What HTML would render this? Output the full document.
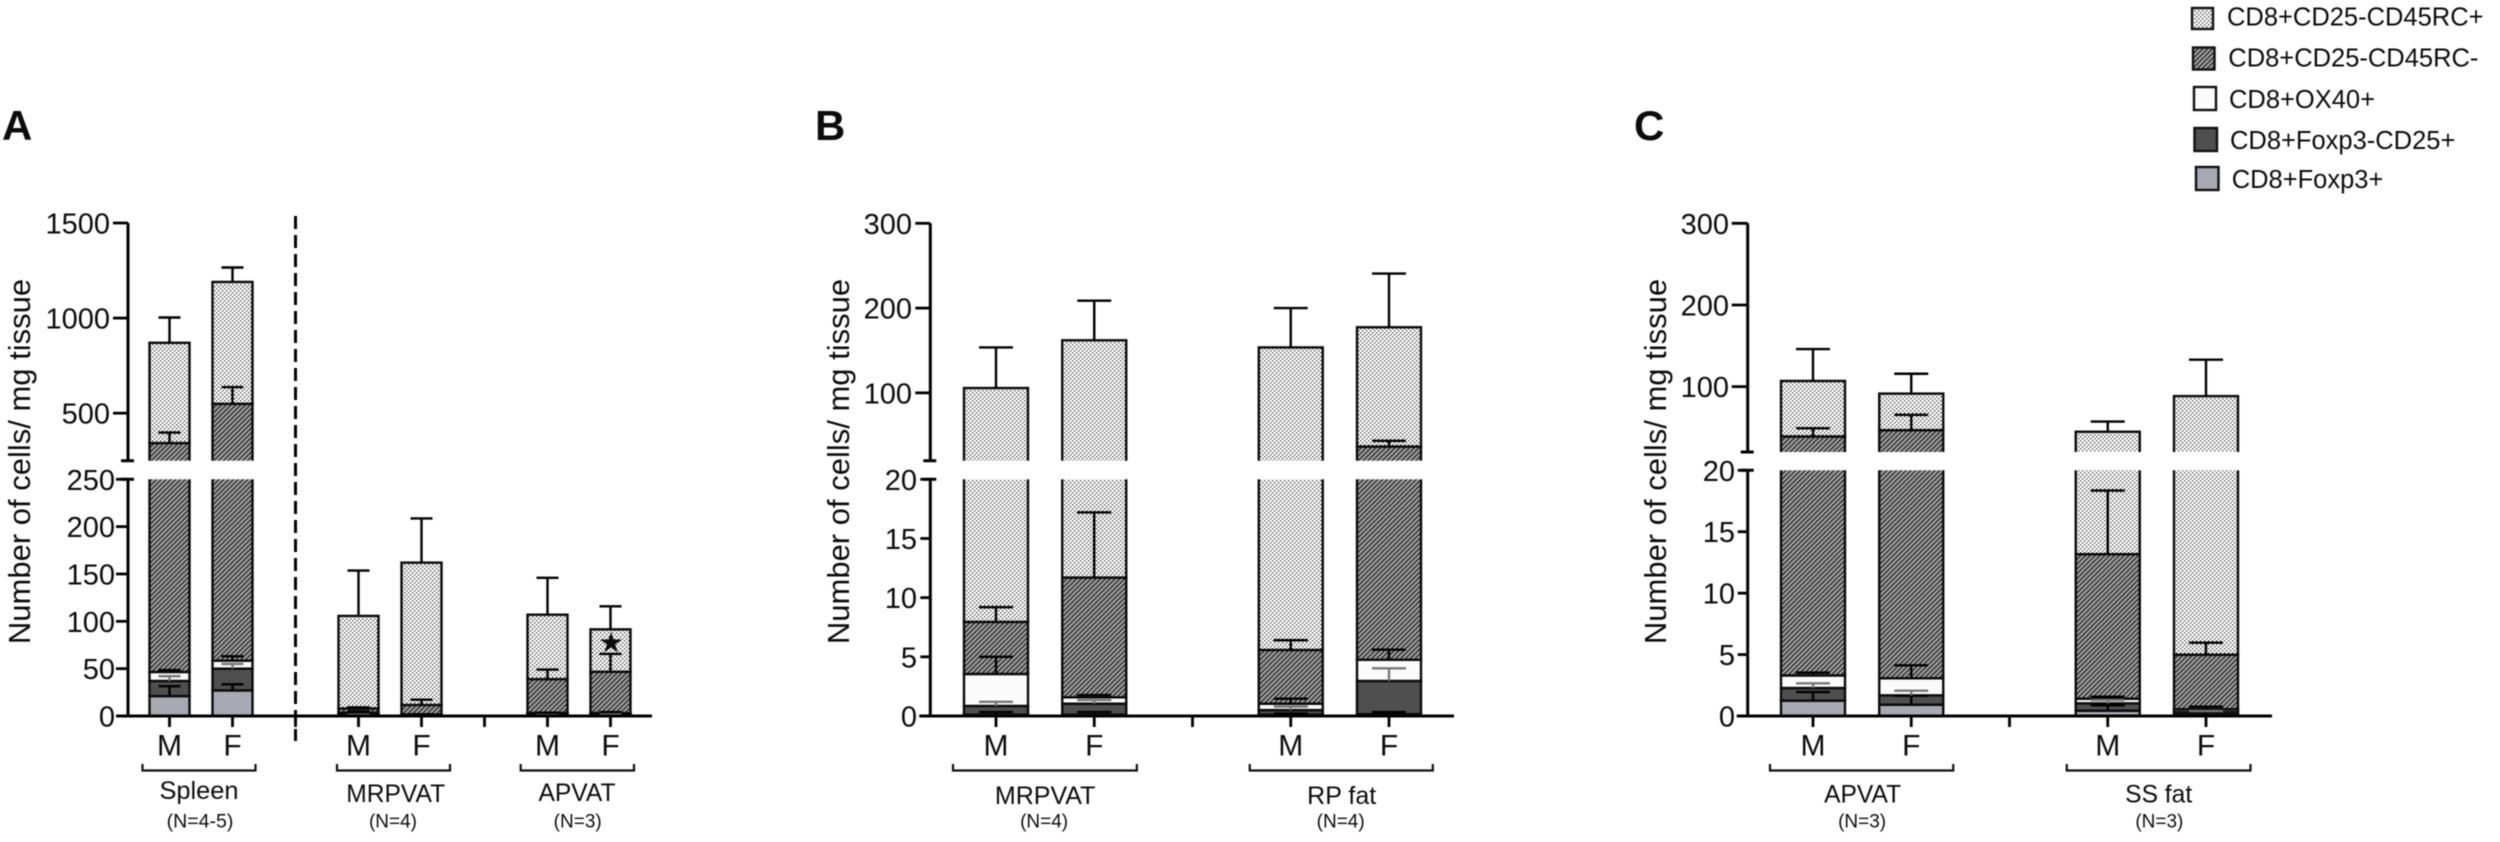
<!DOCTYPE html>
<html lang="en">
<head>
<meta charset="utf-8">
<title>CD8 T cell subsets per mg tissue</title>
<style>
  html, body { margin: 0; padding: 0; background: #fff; }
  #figure { display: block; width: 2500px; height: 842px; filter: blur(0.5px); font-family: "Liberation Sans", Arial, sans-serif; fill: #0c0c0c; }
</style>
</head>
<body>
<svg id="figure" xmlns="http://www.w3.org/2000/svg" width="2500" height="842" viewBox="0 0 2500 842">
  <defs>
    <pattern id="dots" width="4" height="4" patternUnits="userSpaceOnUse">
      <rect width="4" height="4" fill="#ffffff"/>
      <rect x="0" y="0" width="1.4" height="1.4" fill="#444"/>
      <rect x="2" y="2" width="1.4" height="1.4" fill="#444"/>
    </pattern>
    <pattern id="hatch" width="3.4" height="3.4" patternUnits="userSpaceOnUse" patternTransform="rotate(45)">
      <rect width="3.4" height="3.4" fill="#b4b4b4"/>
      <rect x="0" y="0" width="1.8" height="3.4" fill="#383838"/>
    </pattern>
  </defs>

  <text x="2" y="140" font-size="42" font-weight="bold">A</text>
  <text x="815" y="140" font-size="42" font-weight="bold">B</text>
  <text x="1634" y="140" font-size="42" font-weight="bold">C</text>

  <g id="panel-a"></g>
  <g id="panel-b"></g>
  <g id="panel-c"></g>

  <line x1="295.5" y1="216" x2="295.5" y2="741" stroke="#000" stroke-width="3" stroke-dasharray="13 6"/>
  <text x="611" y="652" font-size="28" text-anchor="middle" style="font-family:'DejaVu Sans',sans-serif">★</text>

  <g>
    <g>
      <rect x="2192" y="8" width="21" height="21" fill="url(#dots)" stroke="#111" stroke-width="2.4"/>
      <text x="2227" y="25.5" font-size="25.5">CD8+CD25-CD45RC+</text>
    </g>
    <g>
      <rect x="2193" y="47.5" width="21.5" height="22" fill="url(#hatch)" stroke="#111" stroke-width="2.4"/>
      <text x="2228.3" y="66.5" font-size="25.5">CD8+CD25-CD45RC-</text>
    </g>
    <g>
      <rect x="2194" y="87" width="22" height="23" fill="#fbfbfb" stroke="#111" stroke-width="2.4"/>
      <text x="2229" y="108" font-size="25.5">CD8+OX40+</text>
    </g>
    <g>
      <rect x="2194.5" y="128" width="22.5" height="23" fill="#4f4f4f" stroke="#111" stroke-width="2.4"/>
      <text x="2230" y="149" font-size="25.5">CD8+Foxp3-CD25+</text>
    </g>
    <g>
      <rect x="2196" y="167" width="22.5" height="23" fill="#a9a9b3" stroke="#111" stroke-width="2.4"/>
      <text x="2231.7" y="188" font-size="25.5">CD8+Foxp3+</text>
    </g>
  </g>
</svg>

<script>
// ---------- Data: mean (stack height) and SD of each population ----------
const seriesNames = ['foxp3', 'foxp3-cd25', 'ox40', 'cd45rc-neg', 'cd45rc-pos'];

const panelACategories = ['M', 'F', '', 'M', 'F', '', 'M', 'F'];
const panelAFoxp3      = [21, 27, null, 0.1, 0.1, null, 1.25, 0.92];
const panelADark       = [16, 23, null, 0.75, 0.94, null, 1.03, 0.76];
const panelAOx40       = [9.5, 8.5, null, 2.7, 0.54, null, 1.02, 1.39];
const panelARcNeg      = [296.5, 490.5, null, 4.4, 10.12, null, 35.7, 43.63];
const panelARcPos      = [527, 641, null, 97.75, 150.3, null, 68, 44.8];
const panelAFoxp3Err   = [10.5, 6.5, null, 0.23, 0.23, null, 0.7, 0.73];
const panelADarkErr    = [5, 5, null, 0.35, 0.31, null, 0.38, 0.38];
const panelAOx40Err    = [2, 4.5, null, 1.45, 0.19, null, 0.23, 1.06];
const panelARcNegErr   = [55, 88, null, 1.25, 5.5, null, 10, 18.8];
const panelARcPosErr   = [133, 76, null, 47.9, 46.7, null, 39, 24.3];
const panelATicksLow   = [0, 50, 100, 150, 200, 250];
const panelATicksHigh  = [500, 1000, 1500];
const panelAGroups     = ['Spleen', 'MRPVAT', 'APVAT'];
const panelAGroupNs    = ['(N=4-5)', '(N=4)', '(N=3)'];

const panelBCategories = ['M', 'F', '', 'M', 'F'];
const panelBFoxp3      = [0.1, 0.1, null, 0.1, 0.15];
const panelBDark       = [0.75, 0.94, null, 0.4, 2.81];
const panelBOx40       = [2.7, 0.54, null, 0.54, 1.79];
const panelBRcNeg      = [4.4, 10.12, null, 4.54, 31.95];
const panelBRcPos      = [97.75, 150.3, null, 148.02, 140.7];
const panelBFoxp3Err   = [0.23, 0.23, null, 0.1, 0.18];
const panelBDarkErr    = [0.35, 0.31, null, 0.3, 1.07];
const panelBOx40Err    = [1.45, 0.19, null, 0.42, 0.85];
const panelBRcNegErr   = [1.25, 5.5, null, 0.82, 6.8];
const panelBRcPosErr   = [47.9, 46.7, null, 46.4, 63.3];
const panelBTicksLow   = [0, 5, 10, 15, 20];
const panelBTicksHigh  = [100, 200, 300];
const panelBGroups     = ['MRPVAT', 'RP fat'];
const panelBGroupNs    = ['(N=4)', '(N=4)'];

const panelCCategories = ['M', 'F', '', 'M', 'F'];
const panelCFoxp3      = [1.25, 0.92, null, 0.43, 0.1];
const panelCDark       = [1.03, 0.76, null, 0.6, 0.23];
const panelCOx40       = [1.02, 1.39, null, 0.38, 0.22];
const panelCRcNeg      = [35.7, 43.63, null, 11.76, 4.44];
const panelCRcPos      = [68, 44.8, null, 31.63, 83.41];
const panelCFoxp3Err   = [0.7, 0.73, null, 0.44, 0.23];
const panelCDarkErr    = [0.38, 0.38, null, 0.27, 0.07];
const panelCOx40Err    = [0.23, 1.06, null, 0.16, 0.21];
const panelCRcNegErr   = [10, 18.8, null, 5.18, 0.98];
const panelCRcPosErr   = [39, 24.3, null, 12.5, 44.6];
const panelCTicksLow   = [0, 5, 10, 15, 20];
const panelCTicksHigh  = [100, 200, 300];
const panelCGroups     = ['APVAT', 'SS fat'];
const panelCGroupNs    = ['(N=3)', '(N=3)'];

// ---------- Appearance of each stacked series ----------
const seriesFills = ['#a9a9b3', '#4f4f4f', '#fbfbfb', 'url(#hatch)', 'url(#dots)'];
const seriesErrColors = ['#000', '#777', '#000', '#000', '#000'];

// ---------- Panel layout ----------
const panels = [
  { key: 'a', root: 'panel-a', axisX: 128, x0: 169.5, step: 63, barW: 40, cap: 11, xEnd: 652,
    topY: 223, upBreakY: 460.7, lowBreakY: 479.3, zero: 716, brk: 250, max: 1500,
    tickL: 15, tickLLow: 12, labelXHigh: 110, labelXLow: 115, titleX: 30,
    cats: panelACategories, ticksLow: panelATicksLow, ticksHigh: panelATicksHigh,
    groups: panelAGroups, groupNs: panelAGroupNs,
    values: [panelAFoxp3, panelADark, panelAOx40, panelARcNeg, panelARcPos],
    errs: [panelAFoxp3Err, panelADarkErr, panelAOx40Err, panelARcNegErr, panelARcPosErr],
    spans: [
      { from: 0, to: 1, l: 27, r: 23, dx: -2, nDx: -1, base: 799, fs: 25.4, ns: 19.5 },
      { from: 3, to: 4, l: 21.5, r: 28.5, dx: 5.7, nDx: 3, base: 802, fs: 24.6, ns: 19 },
      { from: 6, to: 7, l: 26.8, r: 23.5, dx: -2, nDx: -1.3, base: 801, fs: 24.6, ns: 19 }
    ] },
  { key: 'b', root: 'panel-b', axisX: 930.3, x0: 996, step: 98.25, barW: 64, cap: 17, xEnd: 1454,
    topY: 223.3, upBreakY: 460.7, lowBreakY: 479.3, zero: 716, brk: 20, max: 300,
    tickL: 15, tickLLow: 10, labelXHigh: 912, labelXLow: 917, titleX: 849,
    cats: panelBCategories, ticksLow: panelBTicksLow, ticksHigh: panelBTicksHigh,
    groups: panelBGroups, groupNs: panelBGroupNs,
    values: [panelBFoxp3, panelBDark, panelBOx40, panelBRcNeg, panelBRcPos],
    errs: [panelBFoxp3Err, panelBDarkErr, panelBOx40Err, panelBRcNegErr, panelBRcPosErr],
    spans: [
      { from: 0, to: 1, l: 43, r: 42.6, dx: 0, nDx: -1, base: 804, fs: 25, ns: 19 },
      { from: 3, to: 4, l: 41, r: 43.8, dx: 1.8, nDx: 0.8, base: 804, fs: 25, ns: 19 }
    ] },
  { key: 'c', root: 'panel-c', axisX: 1747.7, x0: 1813, step: 98.25, barW: 64, cap: 17, xEnd: 2272,
    topY: 223.3, upBreakY: 452, lowBreakY: 470.3, zero: 716, brk: 20, max: 300,
    tickL: 16, tickLLow: 10, labelXHigh: 1729, labelXLow: 1735, titleX: 1666,
    cats: panelCCategories, ticksLow: panelCTicksLow, ticksHigh: panelCTicksHigh,
    groups: panelCGroups, groupNs: panelCGroupNs,
    values: [panelCFoxp3, panelCDark, panelCOx40, panelCRcNeg, panelCRcPos],
    errs: [panelCFoxp3Err, panelCDarkErr, panelCOx40Err, panelCRcNegErr, panelCRcPosErr],
    spans: [
      { from: 0, to: 1, l: 43, r: 42, dx: 0.5, nDx: 0, base: 802.5, fs: 24.6, ns: 19 },
      { from: 3, to: 4, l: 41, r: 44.5, dx: 1.8, nDx: 2.5, base: 802.5, fs: 24.6, ns: 19 }
    ] }
];

// ---------- Helpers ----------
const SVGNS = 'http://www.w3.org/2000/svg';
function make(tag, attrs, parent, content) {
  const el = document.createElementNS(SVGNS, tag);
  for (const k in attrs) el.setAttribute(k, attrs[k]);
  if (content !== undefined) el.textContent = content;
  parent.appendChild(el);
  return el;
}
function yAxis(p) {
  const kLow = (p.zero - p.lowBreakY) / p.brk;
  const kHigh = (p.upBreakY - p.topY) / (p.max - p.brk);
  return function (v) {
    return v <= p.brk ? p.zero - v * kLow : p.upBreakY - (v - p.brk) * kHigh;
  };
}
function xAxis(p) {
  return function (slot) { return p.x0 + slot * p.step; };
}

// ---------- Rendering ----------
panels.forEach(function (p) {
  const root = document.getElementById(p.root);
  const y = yAxis(p);
  const x = xAxis(p);

  // stacked bars
  p.cats.forEach(function (cat, slot) {
    if (!cat) return;
    const cx = x(slot);
    const barGroup = make('g', {}, root);
    
    
    let cum = 0;
    const tops = [];
    seriesNames.forEach(function (name, s) {
      const base = cum;
      cum += p.values[s][slot];
      tops.push(cum);
      const seg = make('rect', {
        x: cx - p.barW / 2, y: y(cum), width: p.barW, height: y(base) - y(cum),
        fill: seriesFills[s], stroke: '#0a0a0a', 'stroke-width': 2.4
      }, barGroup);
      
      
    });
    // white axis-break band cutting through the bar
    const band = make('rect', {
      x: cx - p.barW / 2 - 3, y: p.upBreakY, width: p.barW + 6, height: p.lowBreakY - p.upBreakY, fill: '#fff'
    }, barGroup);
    
    
    // error bars
    seriesNames.forEach(function (name, s) {
      const top = tops[s];
      const yTop = y(top);
      const yErr = y(top + p.errs[s][slot]);
      const err = make('path', {
        d: 'M' + cx + ' ' + yTop + 'V' + yErr + 'M' + (cx - p.cap) + ' ' + yErr + 'H' + (cx + p.cap),
        fill: 'none', stroke: seriesErrColors[s], 'stroke-width': 2.4
      }, barGroup);
      
      
    });
  });

  // y axis
  const axisStyle = { fill: 'none', stroke: '#000', 'stroke-width': 3 };
  const axisLine = make('path', Object.assign({
    d: 'M' + p.axisX + ' ' + p.topY + 'V' + p.upBreakY + 'M' + (p.axisX - 7) + ' ' + p.upBreakY + 'H' + (p.axisX + 6) +
       'M' + (p.axisX - 7) + ' ' + p.lowBreakY + 'H' + (p.axisX + 6) + 'M' + p.axisX + ' ' + p.lowBreakY + 'V' + p.zero
  }, axisStyle), root);
  
  

  function drawTick(v, len, labelX) {
    const ty = y(v);
    const tick = make('line', { x1: p.axisX - len, y1: ty, x2: p.axisX, y2: ty, stroke: '#000', 'stroke-width': 2.8 }, root);
    
    
    const lab = make('text', { x: labelX, y: ty + 10.5, 'text-anchor': 'end', 'font-size': 29 }, root, String(v));
    
    
  }
  p.ticksLow.forEach(function (v) { drawTick(v, p.tickLLow, p.labelXLow); });
  p.ticksHigh.forEach(function (v) { drawTick(v, p.tickL, p.labelXHigh); });

  const title = make('text', {
    x: p.titleX, y: 461.5, 'font-size': 31, 'text-anchor': 'middle',
    transform: 'rotate(-90 ' + p.titleX + ' 461.5)'
  }, root, 'Number of cells/ mg tissue');
  
  

  // x axis
  const baseLine = make('line', { x1: p.axisX - 11, y1: p.zero, x2: p.xEnd, y2: p.zero, stroke: '#000', 'stroke-width': 3 }, root);
  
  

  p.cats.forEach(function (cat, slot) {
    const cx = x(slot);
    const tick = make('line', { x1: cx, y1: p.zero, x2: cx, y2: p.zero + 11, stroke: '#000', 'stroke-width': 2.8 }, root);
    
    
    if (cat) {
      const lab = make('text', { x: cx, y: 755.5, 'text-anchor': 'middle', 'font-size': 30 }, root, cat);
      
      
    }
  });

  // tissue group brackets
  p.spans.forEach(function (sp, i) {
    const xl = x(sp.from) - sp.l;
    const xr = x(sp.to) + sp.r;
    const mid = (x(sp.from) + x(sp.to)) / 2;
    const bracket = make('path', {
      d: 'M' + xl + ' 764V770.5H' + xr + 'V764', fill: 'none', stroke: '#111', 'stroke-width': 2.2
    }, root);
    
    
    const name = make('text', { x: mid + sp.dx, y: sp.base, 'text-anchor': 'middle', 'font-size': sp.fs }, root, p.groups[i]);
    
    
    const n = make('text', { x: mid + sp.nDx, y: 827.5, 'text-anchor': 'middle', 'font-size': sp.ns }, root, p.groupNs[i]);
    
    
  });
});
</script>
</body>
</html>
